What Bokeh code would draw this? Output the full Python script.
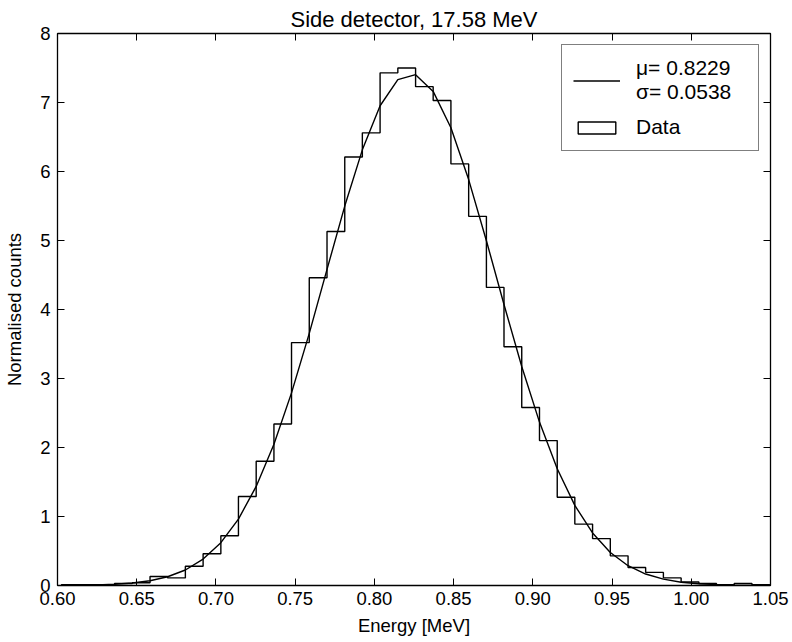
import numpy as np
from bokeh.plotting import figure
from bokeh.models import (Range1d, LinearAxis, FixedTicker, PrintfTickFormatter,
                          CustomJSTickFormatter, Legend, LegendItem, ColumnDataSource)
from bokeh.embed import file_html
from bokeh.resources import INLINE

# ---- data ----
bin_edges = [0.6025, 0.6137, 0.6249, 0.6360, 0.6472, 0.6584, 0.6695, 0.6807, 0.6919, 0.7031,
             0.7142, 0.7254, 0.7366, 0.7477, 0.7589, 0.7701, 0.7813, 0.7924, 0.8036, 0.8148,
             0.8260, 0.8371, 0.8483, 0.8595, 0.8707, 0.8818, 0.8930, 0.9042, 0.9154, 0.9265,
             0.9377, 0.9489, 0.9601, 0.9712, 0.9824, 0.9936, 1.0048, 1.0159, 1.0271, 1.0383,
             1.0495]
counts = [0.01, 0.01, 0.01, 0.03, 0.04, 0.13, 0.11, 0.28, 0.46, 0.72,
          1.29, 1.80, 2.34, 3.52, 4.46, 5.13, 6.21, 6.56, 7.43, 7.50,
          7.23, 7.03, 6.11, 5.35, 4.32, 3.46, 2.58, 2.10, 1.28, 0.89,
          0.68, 0.43, 0.26, 0.19, 0.11, 0.05, 0.03, 0.01, 0.03, 0.01]
fit_values = [0.002, 0.004, 0.009, 0.018, 0.036, 0.069, 0.127, 0.225, 0.383, 0.621,
              0.963, 1.436, 2.048, 2.792, 3.654, 4.581, 5.499, 6.314, 6.953, 7.331,
              7.403, 7.161, 6.634, 5.883, 4.997, 4.073, 3.173, 2.368, 1.691, 1.161,
              0.761, 0.478, 0.287, 0.166, 0.092, 0.048, 0.025, 0.012, 0.006, 0.002,
              0.001]
x_ticks = [0.60, 0.65, 0.70, 0.75, 0.80, 0.85, 0.90, 0.95, 1.00, 1.05]
y_ticks = [0, 1, 2, 3, 4, 5, 6, 7, 8]
fit_label = "\u03bc= 0.8229\n\u03c3= 0.0538"
data_label = "Data"
title_text = "Side detector, 17.58 MeV"
x_label = "Energy [MeV]"
y_label = "Normalised counts"

FONT = "Liberation Sans"

p = figure(width=792, height=642, x_range=Range1d(0.60, 1.05), y_range=Range1d(0, 8),
           output_backend="svg", toolbar_location=None,
           min_border_left=57, min_border_right=22, min_border_top=33, min_border_bottom=57,
           title=title_text)
p.title.align = "center"
p.title.text_font = FONT
p.title.text_font_size = "22px"
p.title.text_font_style = "normal"
p.title.text_color = "black"
p.title.standoff = 4
p.grid.visible = False
p.outline_line_color = "black"
p.background_fill_color = "white"
p.border_fill_color = "white"

bottom_ax = p.below[0]
left_ax = p.left[0]
top_ax = LinearAxis()
right_ax = LinearAxis()
p.add_layout(top_ax, "above")
p.add_layout(right_ax, "right")

for ax in (bottom_ax, top_ax):
    ax.ticker = FixedTicker(ticks=x_ticks)
for ax in (left_ax, right_ax):
    ax.ticker = FixedTicker(ticks=y_ticks)
bottom_ax.formatter = PrintfTickFormatter(format="%.2f")

for ax in (bottom_ax, left_ax, top_ax, right_ax):
    ax.axis_line_color = "black"
    ax.axis_line_width = 1.3
    ax.major_tick_in = 7
    ax.major_tick_out = 0
    ax.major_tick_line_color = "black"
    ax.major_tick_line_width = 1
    ax.minor_tick_line_color = None
    ax.major_label_text_font = FONT
    ax.major_label_text_font_size = "18.5px"
    ax.major_label_text_color = "black"
    ax.axis_label_text_font = FONT
    ax.axis_label_text_font_size = "18.5px"
    ax.axis_label_text_font_style = "normal"
    ax.axis_label_text_color = "black"
for ax in (top_ax, right_ax):
    ax.formatter = CustomJSTickFormatter(code="return ''")
    ax.major_label_standoff = 0

bottom_ax.major_label_standoff = 6
left_ax.major_label_standoff = 7
bottom_ax.axis_label = x_label
left_ax.axis_label = y_label
bottom_ax.axis_label_standoff = 7
left_ax.axis_label_standoff = 12

# histogram outline (step)
xs = np.repeat(np.array(bin_edges), 2)
ys = np.concatenate([[0.0], np.repeat(np.array(counts), 2), [0.0]])
p.line(xs, ys, line_color="black", line_width=1.4)

# fit curve through bin edges
fit_r = p.line(bin_edges, fit_values, line_color="black", line_width=1.4)

# degenerate (zero-height) quad on the first bin, used for the legend's "Data" sample
legend_src = ColumnDataSource(dict(left=[bin_edges[0]], right=[bin_edges[1]], top=[0.0], bottom=[0.0]))
data_r = p.quad(left="left", right="right", top="top", bottom="bottom", source=legend_src,
                fill_color="white", line_color="black", line_width=1.4)

legend = Legend(items=[LegendItem(label=fit_label, renderers=[fit_r]),
                       LegendItem(label=data_label, renderers=[data_r])],
                location="top_right")
legend.border_line_color = "black"
legend.border_line_width = 1.3
legend.background_fill_color = "white"
legend.background_fill_alpha = 1
legend.label_text_font = FONT
legend.label_text_font_size = "21px"
legend.label_text_color = "black"
legend.label_width = 111
legend.glyph_width = 47
legend.glyph_height = 15
legend.label_standoff = 16
legend.padding = 11
legend.margin = 11
legend.spacing = 11
p.add_layout(legend)

open("out.html", "w").write(file_html(p, INLINE))
